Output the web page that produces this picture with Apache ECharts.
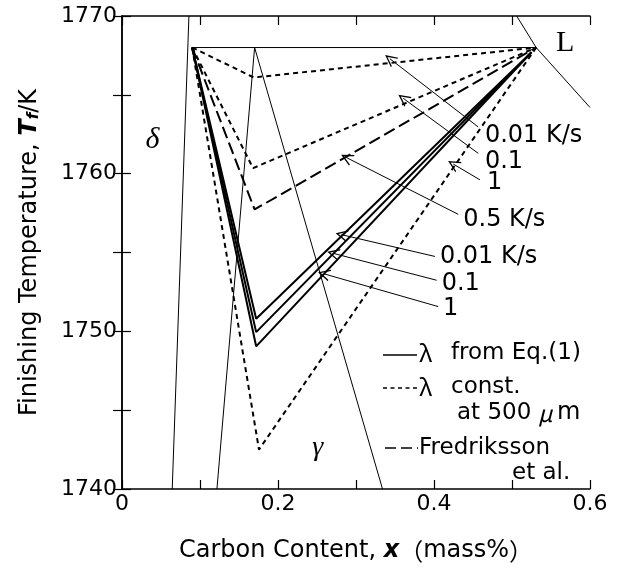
<!DOCTYPE html>
<html><head><meta charset="utf-8">
<script src="https://cdn.jsdelivr.net/npm/echarts@6/dist/echarts.min.js"></script>
<style>html,body{margin:0;padding:0;background:#fff}#c{width:621px;height:568px}</style>
</head><body><div id="c"></div>
<script>
// ---- data (mass% C, K) ----
const xTickLabels = ['0', '0.2', '0.4', '0.6'];
const yTickLabels = ['1740', '1750', '1760', '1770'];

// lambda from Eq.(1), cooling rates 0.01, 0.1, 1 K/s
const solidX = [0.09, 0.172, 0.525];
const solidT001 = [1768, 1750.8, 1767.7];
const solidT01 = [1768, 1749.95, 1767.7];
const solidT1 = [1768, 1749.05, 1767.7];
// lambda const at 500 um
const constX001 = [0.09, 0.169, 0.531];
const constT001 = [1768, 1766.1, 1768];
const constX01 = [0.09, 0.168, 0.531];
const constT01 = [1768, 1760.35, 1768];
const constX1 = [0.09, 0.1756, 0.531];
const constT1 = [1768, 1742.5, 1768];
// Fredriksson et al., 0.5 K/s
const fredX = [0.09, 0.170, 0.531];
const fredT = [1768, 1757.73, 1768];
// equilibrium phase boundaries
const deltaX = [0.0858, 0.0644], deltaT = [1770, 1740];
const gammaLX = [0.170, 0.1217], gammaLT = [1768, 1740];
const gammaRX = [0.170, 0.334], gammaRT = [1768, 1740];
const liqX = [0.506, 0.531, 0.6], liqT = [1770, 1768, 1764.2];
const periX = [0.09, 0.531], periT = [1768, 1768];

// annotation arrows: label, tail (x,T), tip (x,T)
const arrowLabels = ['0.01 K/s', '0.1', '1', '0.5 K/s', '0.01 K/s', '0.1', '1'];
const arrowTailX = [0.4567, 0.4567, 0.4589, 0.4311, 0.4012, 0.4033, 0.4054];
const arrowTailT = [1762.96, 1761.29, 1759.61, 1757.42, 1754.75, 1753.24, 1751.57];
const arrowTipX = [0.3434, 0.3605, 0.4247, 0.2878, 0.2814, 0.2706, 0.2587];
const arrowTipT = [1767.29, 1764.78, 1760.61, 1761.02, 1756.13, 1754.95, 1753.65];
const labelX = [0.4653, 0.4653, 0.4679, 0.4375, 0.4076, 0.4098, 0.4114];
const labelT = [1762.43, 1760.76, 1759.40, 1757.10, 1754.70, 1753.03, 1751.46];

const phaseNames = ['δ', 'L', 'γ'];
const phaseX = [0.0392, 0.568, 0.251];
const phaseT = [1762.13, 1768.3, 1742.6];

// ---- build ----
const pair = (xs, ys) => xs.map((x, i) => [x, ys[i]]);
const FONT = 'DejaVu Sans';
const chart = echarts.init(document.getElementById('c'), null, {renderer: 'canvas'});

function lineSeries(name, xs, ys, width, type) {
  return {
    name, type: 'line', data: pair(xs, ys), showSymbol: false, symbol: 'none',
    lineStyle: {color: '#000', width, type}, z: 3, animation: false, silent: true
  };
}
const chev = 'path://M5,0 L10,12 L8.8,12 L5,3 L1.2,12 L0,12 Z';

const axisCommon = {
  type: 'value', axisLine: {lineStyle: {color: '#000', width: 1.5}},
  axisTick: {inside: true, length: 9, lineStyle: {color: '#000', width: 1.2}},
  splitLine: {show: false}
};

const option = {
  animation: false,
  backgroundColor: '#fff',
  grid: {left: 122, right: 31, top: 16, bottom: 74},
  xAxis: [
    Object.assign({}, axisCommon, {
      min: 0, max: 0.6, interval: 0.1, position: 'bottom',
      axisLabel: {
        fontFamily: FONT, fontSize: 22, color: '#000', margin: 4,
        formatter: v => { const k = Math.round(v * 10); return k % 2 === 0 ? xTickLabels[k / 2] : ''; }
      },
      name: '{a|Carbon Content, }{b|x}{c|（}{a|mass%}{c|）}', nameLocation: 'middle', nameGap: 50,
      nameTextStyle: {
        rich: {
          a: {fontFamily: FONT, fontSize: 24, color: '#000'},
          b: {fontFamily: FONT, fontSize: 24, fontWeight: 'bold', fontStyle: 'italic', color: '#000'},
          c: {fontFamily: 'Noto Sans CJK JP', fontSize: 24, color: '#000'}
        }
      }
    }),
    Object.assign({}, axisCommon, {min: 0, max: 0.6, interval: 0.1, position: 'top', axisLabel: {show: false}})
  ],
  yAxis: [
    Object.assign({}, axisCommon, {
      min: 1740, max: 1770, interval: 5, position: 'left',
      axisLabel: {
        fontFamily: FONT, fontSize: 22, color: '#000', margin: 5,
        formatter: v => (Math.round(v) % 10 === 0 ? yTickLabels[(Math.round(v) - 1740) / 10] : '')
      },
      name: '{a|Finishing Temperature, }{b|T}{s|f}{a|/K}', nameLocation: 'middle', nameGap: 80, nameRotate: 90,
      nameTextStyle: {
        rich: {
          a: {fontFamily: FONT, fontSize: 24, color: '#000'},
          b: {fontFamily: FONT, fontSize: 24, fontWeight: 'bold', fontStyle: 'italic', color: '#000'},
          s: {fontFamily: FONT, fontSize: 15, fontWeight: 'bold', fontStyle: 'italic', color: '#000', padding: [10, 0, 0, 0]}
        }
      }
    }),
    Object.assign({}, axisCommon, {min: 1740, max: 1770, interval: 5, position: 'right', axisLabel: {show: false}})
  ],
  series: [
    lineSeries('delta', deltaX, deltaT, 1, 'solid'),
    lineSeries('gammaL', gammaLX, gammaLT, 1, 'solid'),
    lineSeries('gammaR', gammaRX, gammaRT, 1, 'solid'),
    lineSeries('liquidus', liqX, liqT, 1, 'solid'),
    lineSeries('peritectic', periX, periT, 1, 'solid'),
    lineSeries('Eq1 0.01', solidX, solidT001, 2, 'solid'),
    lineSeries('Eq1 0.1', solidX, solidT01, 2, 'solid'),
    lineSeries('Eq1 1', solidX, solidT1, 2, 'solid'),
    lineSeries('const 0.01', constX001, constT001, 2, [5, 4]),
    lineSeries('const 0.1', constX01, constT01, 2, [5, 4]),
    lineSeries('const 1', constX1, constT1, 2, [5, 4]),
    lineSeries('Fredriksson', fredX, fredT, 2, [12, 5]),
    {
      type: 'lines', coordinateSystem: 'cartesian2d', polyline: false, z: 4,
      symbol: ['none', chev], symbolSize: [9, 12],
      lineStyle: {color: '#000', width: 1, opacity: 1},
      itemStyle: {color: '#000'},
      data: arrowLabels.map((l, i) => ({coords: [[arrowTailX[i], arrowTailT[i]], [arrowTipX[i], arrowTipT[i]]]})),
      silent: true
    }
  ]
};
chart.setOption(option);

// texts anchored in data coordinates
const g = [];
arrowLabels.forEach((l, i) => {
  const p = chart.convertToPixel({gridIndex: 0}, [labelX[i], labelT[i]]);
  g.push({type: 'text', x: p[0], y: p[1], style: {text: l, fontFamily: FONT, fontSize: 24, fill: '#000', verticalAlign: 'middle', align: 'left'}});
});
const phaseStyle = [
  {fontFamily: 'Liberation Serif', fontSize: 30, fontStyle: 'italic'},
  {fontFamily: 'Liberation Serif', fontSize: 30},
  {fontFamily: 'Liberation Serif', fontSize: 28, fontStyle: 'italic'}
];
phaseNames.forEach((n, i) => {
  const p = chart.convertToPixel({gridIndex: 0}, [phaseX[i], phaseT[i]]);
  g.push({type: 'text', x: p[0], y: p[1], style: Object.assign({text: n, fill: '#000', align: 'center', verticalAlign: 'middle'}, phaseStyle[i])});
});
// legend
const lg = (x1, x2, y, dash) => ({type: 'line', shape: {x1, y1: y, x2, y2: y}, style: {stroke: '#000', lineWidth: 1.6, lineDash: dash}});
const lt = (x, y, t, extra) => ({type: 'text', x, y, style: Object.assign({text: t, fontFamily: FONT, fontSize: 23, fill: '#000', verticalAlign: 'middle', align: 'left'}, extra || {})});
g.push(lg(383, 417, 355, null));
g.push(lt(419, 353, 'λ', {fontFamily: 'Noto Sans CJK JP', fontSize: 24}));
g.push(lt(451, 353, 'from Eq.(1)'));
g.push(lg(383, 418, 388, [4, 3.5]));
g.push(lt(419, 387, 'λ', {fontFamily: 'Noto Sans CJK JP', fontSize: 24}));
g.push(lt(451, 387, 'const.'));
g.push(lt(457, 413, 'at 500', {}));
g.push(lt(538, 413, 'μ', {fontFamily: 'Noto Sans CJK JP', fontStyle: 'italic', fontSize: 23}));
g.push(lt(557, 413, 'm', {fontSize: 24}));
g.push(lg(385, 418, 448, [11, 5]));
g.push(lt(419, 448, 'Fredriksson'));
g.push(lt(512, 473, 'et al.'));
chart.setOption({graphic: g});
</script></body></html>
